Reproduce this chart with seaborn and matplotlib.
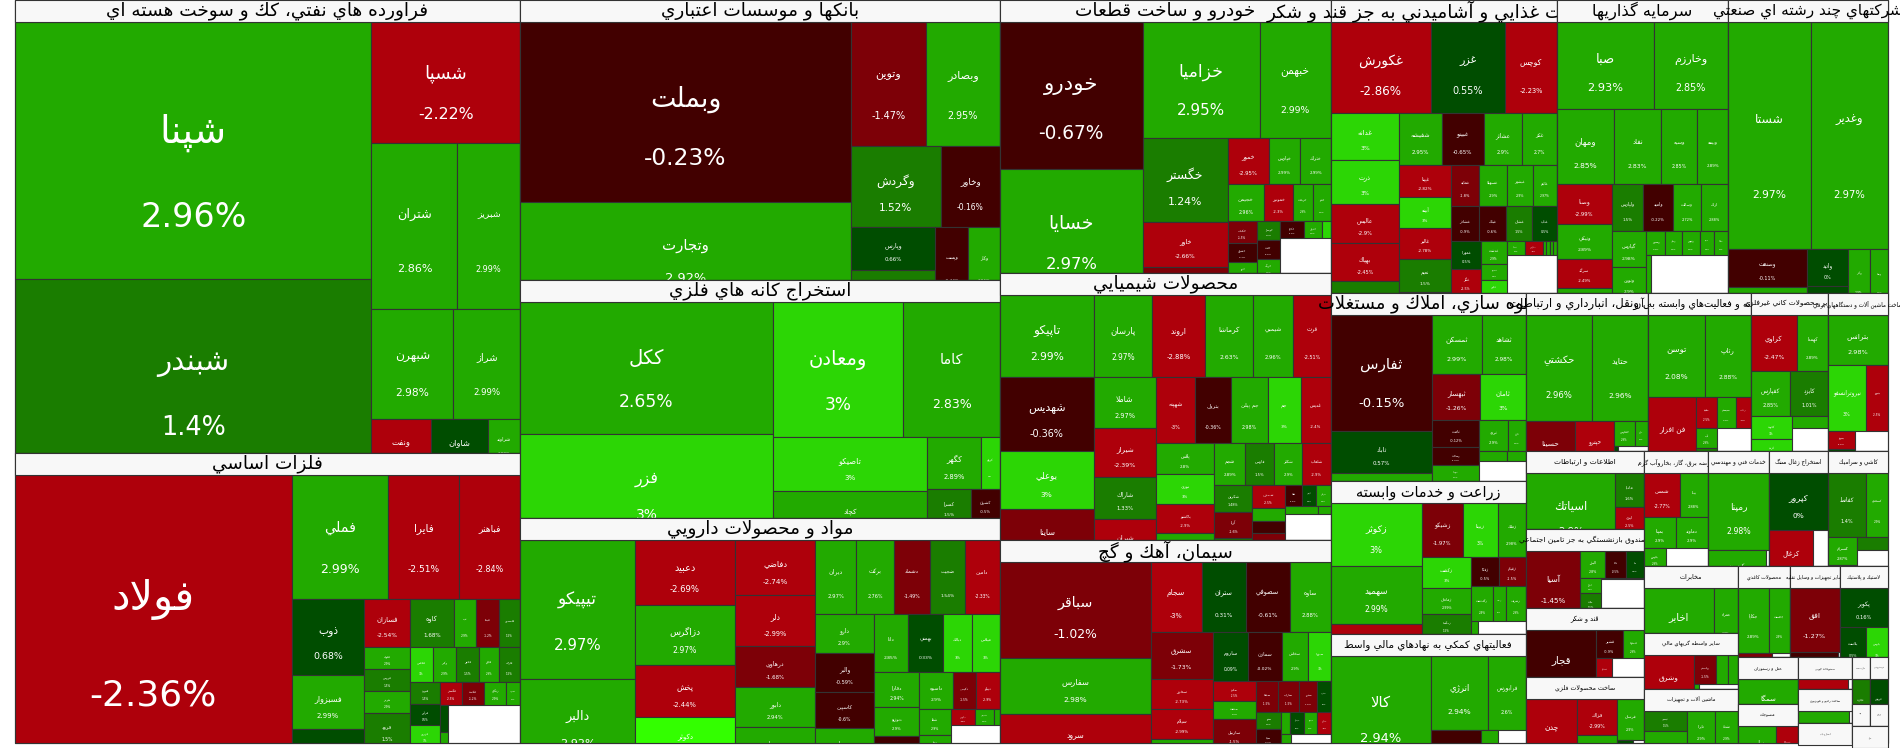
import unicodedata
import matplotlib
matplotlib.use("Agg")
import matplotlib.pyplot as plt
from matplotlib.patches import Rectangle
import pandas as pd
import seaborn as sns

# ---------- data: sector titles and sizes (market-value units) ----------
SECTOR_TITLES = [
    "فراورده هاي نفتي، كك و سوخت هسته اي", "فلزات اساسي", "بانكها و موسسات اعتباري",
    "استخراج كانه هاي فلزي", "مواد و محصولات دارويي", "خودرو و ساخت قطعات", "محصولات شيميايي",
    "سيمان، آهك و گچ", "محصولات غذايي و آشاميدني به جز قند و شكر", "سرمايه گذاريها",
    "شركتهاي چند رشته اي صنعتي", "انبوه سازي، املاك و مستغلات", "زراعت و خدمات وابسته",
    "فعاليتهاي كمكي به نهادهاي مالي واسط", "حمل ونقل، انبارداري و ارتباطات",
    "رايانه و فعاليت‌هاي وابسته به آن", "ساير محصولات كاني غيرفلزي", "ساخت ماشين آلات و دستگاههاي برقي",
    "اطلاعات و ارتباطات", "وصندوق بازنشستگي به جز تامين اجتماعي", "قند و شكر", "ساخت محصولات فلزي",
    "عرضه برق، گاز، بخاروآب گرم", "خدمات فني و مهندسي", "استخراج زغال سنگ", "كاشي و سراميك",
    "مخابرات", "ساير واسطه گريهاي مالي", "ماشين آلات و تجهيزات", "محصولات كاغذي",
    "ساير تجهيزات و وسايل نقليه", "لاستيك و پلاستيك", "هتل و رستوران", "منسوجات",
    "مصنوعات چوبي", "ساخت راديو و تلويزيون", "انتشار و چاپ", "تجارت عمده", "خرده فروشي",
    "بيمه", "ورزش", "ساير",
]
SECTOR_SIZES = [228.8, 146.5, 134.4, 114.2, 108.0, 90.4, 88.4, 67.2, 66.2, 50.1, 46.9,
                36.7, 29.8, 21.3, 19.3, 16.3, 12.2, 9.5, 9.2, 9.3, 8.1, 7.8,
                7.4, 7.0, 6.8, 6.9, 6.3, 5.3, 5.1, 4.7, 4.55, 4.4, 2.8, 2.35,
                1.73, 1.8, 1.1, 0.85, 0.85, 0.41, 0.41, 0.6]

N01 = ["شپنا", "شبندر", "شسپا", "شتران", "شبريز", "شبهرن", "شراز", "ونفت", "شاوان", "شراوند"]
C01 = [2.96, 1.4, -2.22, 2.86, 2.99, 2.98, 2.99, -2.5, 0.56, 2.99]
V01 = [91.5, 70.0, 18.0, 14.3, 10.4, 9.0, 7.3, 3.3, 3.2, 1.5]

N02 = ["فولاد", "فملي", "فايرا", "فباهنر", "ذوب", "فسبزوار", "فجر", "فسازان", "كاوه", "تب", "فپنتا", "فاسمين",
       "فلوله", "فروس", "هرمز", "فرود", "فنوال", "فخاس", "وكبر", "فخوز", "فجام", "فاراك", "فنورد", "فرآور",
       "فزرين", "فولاژ", "فگستر", "فكمند", "زنگان", "فسرب", "فافزا", "فمراد"]
C02 = [-2.36, 2.99, -2.51, -2.84, 0.68, 2.99, 0.5, -2.54, 1.68, 2.9, -1.2, 1.5,
       2.9, 1.5, 2.9, 1.5, 1.5, 3.0, 2.9, 1.5, 2.9, 1.5, 1.5, 0.5, 3.0, 0.5, -2.5, -1.2, 2.9, 2.9, 0.5, 2.9]
V02 = [80.3, 12.0, 8.75, 7.6, 5.5, 3.9, 2.6, 2.2, 2.1, 1.1, 1.1, 1.0,
       1.0, 1.0, 1.0, 1.6, 0.8, 0.8, 0.8, 0.8, 0.7, 0.72, 0.66, 0.64, 0.63, 0.58, 0.5, 0.5, 0.5, 0.32, 0.2, 0.25]

N03 = ["وبملت", "وتجارت", "وتوين", "وبصادر", "وگردش", "وخاور", "وپارس", "وپاسار", "وپست", "وكار"]
C03 = [-0.23, 2.92, -1.47, 2.95, 1.52, -0.16, 0.66, 1.5, -0.44, 2.96]
V03 = [59.6, 33.1, 9.3, 9.2, 7.3, 4.8, 3.6, 2.7, 2.3, 2.2]

N04 = ["ككل", "فزر", "ومعادن", "كاما", "تاصيكو", "كچاد", "كگهر", "كروي", "كسرا", "كمنگنز", "كشرق"]
C04 = [2.65, 3, 3, 2.83, 3, 2.5, 2.89, 3, 1.5, 2.9, -0.5]
V04 = [33.4, 26.8, 17.6, 13.0, 8.4, 7.5, 2.8, 1.0, 1.5, 0.75, 0.85]

N05 = ["تيپيكو", "دالبر", "دعبيد", "دزاگرس", "پخش", "دكوثر", "دفاضي", "دلر", "درهاوي", "دابور", "دسبحان",
       "ديران", "بركت", "دشماد", "ضجيت", "دامين", "دارو", "والبر", "كاسپين", "دسينا", "دانا", "بهمني", "دبالك",
       "ميلاس", "دفارا", "دتوزيع", "دروز", "داسوه", "دكيمي", "ديپلو", "شفا", "دتماد", "دجابر", "دپارس", "دشيمي", "دكپسول"]
C05 = [2.97, 2.92, -2.69, 2.97, -2.44, 3.5, -2.74, -2.99, -1.68, 2.94, 2.9,
       2.97, 2.76, -1.49, 1.54, -2.33, 2.9, -0.59, -0.6, 2.91, 2.85, 0.33, 3,
       3, 2.94, 2.9, -0.4, 2.9, -1.5, -2.9, 2.9, 2.9, 2.9, -2.5, 2.9, 2.9]
V05 = [16.0, 9.9, 6.5, 6.0, 5.2, 4.8, 4.4, 4.1, 3.3, 3.2, 3.0,
       3.05, 2.8, 2.7, 2.55, 2.6, 2.3, 2.3, 2.1, 2.2, 2.0, 2.0, 1.7,
       1.6, 1.6, 1.3, 1.3, 1.25, 0.85, 0.9, 0.8, 0.5, 0.45, 0.4, 0.3, 0.1]

N06 = ["خودرو", "خسايا", "خزاميا", "خبهمن", "خگستر", "خاور", "خكار", "خمور", "خپارس", "ختراك",
       "خچيمن", "خموتور", "خريخت", "خفنر", "خكمك", "خشرق", "ختور", "خنصير", "خوساز", "خلنت", "خرينگ", "خمحور",
       "خكاوه", "خديزل", "خاذين"]
C06 = [-0.67, 2.97, 2.95, 2.99, 1.24, -2.66, -1.2, -2.95, 2.99, 2.99,
       2.96, -2.3, 2.9, 2.9, -1.5, -0.4, 2.9, -2.5, 1.5, -0.5, 2.9, -1.5, -0.6, 2.9, 3]
V06 = [21.0, 18.0, 13.6, 8.3, 7.1, 3.8, 2.4, 1.9, 1.45, 1.4,
       1.35, 1.05, 0.75, 0.65, 0.65, 0.55, 0.5, 0.45, 0.45, 0.45, 0.42, 0.45, 0.4, 0.3, 0.15]

N07 = ["تاپيكو", "شهديس", "بوعلي", "ساينا", "پارسان", "اروند", "كرماشا", "شيمبي", "قرت", "شاملا", "شيراز", "شاراك", "شيران",
       "شهپنه", "بترول", "جم پيلن", "جم", "غديس", "پلاس", "نوري", "پاكشو", "شكام", "شجم", "فارس", "شكلر", "شلعاب",
       "شكربن", "آريا", "شگل", "شصدف", "شفن", "شنفت", "شپديس", "شپاس", "شفا", "كيمي", "شرانل", "شسم", "شبهرن"]
C07 = [2.99, -0.36, 3, -1.5, 2.97, -2.88, 2.63, 2.96, -2.51, 2.97, -2.39, 1.33, -2.5,
       -3, -0.36, 2.98, 3, -2.4, 2.8, 3, -2.9, 2.9, 2.89, 1.5, 2.9, -2.9,
       1.48, -1.6, 1.5, -2.5, 2.9, -0.5, -1.5, 1.5, -0.5, 0.5, 2.9, 2.9, 2.9]
V07 = [7.7, 7.0, 5.4, 5.0, 4.76, 4.35, 3.9, 3.3, 3.1, 3.2, 3.0, 2.6, 2.7,
       2.6, 2.4, 2.4, 2.2, 2.0, 1.8, 1.75, 1.7, 1.7, 1.3, 1.2, 1.2, 1.2,
       1.0, 1.0, 0.9, 0.76, 0.4, 0.4, 0.4, 0.56, 0.35, 0.3, 0.3, 0.25, 0.1]

N08 = ["سباقر", "سفارس", "سرود", "سجام", "ستران", "سصوفي", "ساوه", "سشرق", "سخزر", "سيلام", "سفانو", "ساروم", "سمازن",
       "سخاش", "سبزوا", "سكرد", "سدشت", "ساربيل", "سهگمت", "سپاها", "ساراب", "سدور", "سغرب", "سنير", "سيتا", "سكرما",
       "سخوز", "سيدكو", "سبجنو", "سقاين", "سمتاز"]
C08 = [-1.02, 2.98, -2.5, -3, 0.31, -0.61, 2.88, -1.73, -2.73, -2.99, 2.9, 0.09, -0.02,
       2.9, 3, -2.5, 2.9, -1.5, -2.5, -1.5, -1.5, -1.5, 0.5, 1.5, -0.5, -2.5, 2.9, 0.5, 2.9, -2.5, 2.9]
V08 = [14.4, 8.5, 7.7, 3.6, 3.1, 3.1, 2.9, 2.9, 1.85, 1.9, 1.6, 1.7, 1.65,
       1.3, 1.1, 0.85, 0.8, 1.3, 0.7, 0.65, 0.65, 0.55, 0.42, 0.42, 0.5, 0.4, 0.2, 0.3, 0.3, 0.3, 0.3]

N09 = ["غكورش", "غزر", "كوچس", "غدانه", "ذرت", "عاليس", "بهپاك", "غنوش", "شفيشه", "غبينو", "عشائر", "غكز",
       "غپينا", "آبينه", "غالبر", "نعيم", "غشهد", "غمايه", "غسهيلا", "غبشهر", "غاليم", "غشاذر", "غپاك", "غشان",
       "غناب", "غمهرا", "غگز", "غمشهد", "غدشت", "غصينو", "غچين", "غيوان", "غشاد", "غفارس", "غنيلي", "غبهار", "غلور", "غمينو"]
C09 = [-2.86, 0.55, -2.23, 3, 3, -2.9, -2.45, 1.5, 2.95, -0.65, 2.9, 2.7,
       -2.82, 3, -2.78, 1.5, -1.5, -1.8, 2.9, 2.9, 2.97, -0.9, -0.6, 1.5,
       0.5, 0.5, -2.5, -1.5, 2.9, 2.9, 3, -0.5, 2.9, -2.5, 2.9, 2.9, 2.9, 2.9]
V09 = [9.1, 6.8, 4.7, 3.2, 3.0, 2.7, 2.6, 2.3, 2.2, 2.2, 2.0, 1.8,
       1.65, 1.6, 1.6, 1.7, 1.2, 1.15, 1.15, 1.05, 1.0, 0.95, 0.95, 0.9,
       0.85, 0.85, 0.8, 0.6, 0.6, 0.4, 0.45, 0.43, 0.25, 0.25, 0.05, 0.05, 0.05, 0.05]

N10 = ["صبا", "وخارزم", "ومهان", "نفاد", "وسيه", "وبيمه", "وصنا", "ونيكي", "سرگد", "وسپه", "ولپارس", "واميد", "وسالت",
       "اراك", "گپارس", "ونوين", "وصندوق", "وسپهر", "وملي", "وتوس", "سپيد", "سمگا", "ساذر"]
C10 = [2.93, 2.85, 2.85, 2.83, 2.85, 2.89, -2.99, 2.89, -2.49, 2.9, 1.5, -0.22, 2.72,
       2.88, 2.98, 2.9, 2.9, 2.9, 2.9, 2.9, 2.9, 2.9, 2.9]
V10 = [8.45, 6.5, 4.3, 3.5, 2.7, 2.3, 2.2, 1.9, 1.6, 1.5, 1.45, 1.4, 1.3,
       1.25, 1.25, 1.1, 0.52, 0.46, 0.4, 0.43, 0.35, 0.33, 0.27]

N11 = ["شستا", "وغدير", "وصنعت", "وپارس", "واتيد", "وبالك", "وآذر", "وسنا"]
C11 = [2.97, 2.97, -0.11, 2.9, 0, 0.2, 2.9, 2.9]
V11 = [18.8, 17.6, 3.0, 2.2, 1.5, 1.15, 1.3, 1.0]

N12 = ["ثفارس", "ثاباد", "ثالوند", "ثمسكن", "ثشاهد", "ثبهسار", "ثامان", "ثامت", "وساخت", "ثنوسا", "ثبهن", "ثرود", "ثاژن", "ثجنوب", "ثعمرا"]
C12 = [-0.15, 0.57, 2.9, 2.99, 2.98, -1.26, 3, -0.12, -0.79, 2.7, 2.88, 2.9, 2.9, 2.9, 2.9]
V12 = [11.8, 4.3, 3.0, 2.9, 2.6, 2.2, 2.1, 1.3, 0.82, 0.78, 1.0, 0.9, 0.55, 0.3, 0.2]

N13 = ["زكوثر", "سهميد", "زفاد", "زشيكو", "زبينا", "زملك", "زكشت", "زماهان", "زمگسا", "زپارس", "زفكا", "زقيام", "زگلدشت", "زدشت", "زشريف", "زنگين"]
C13 = [3, 2.99, -2.5, -1.97, 3, 2.98, 3, 2.99, 1.5, 2.9, -0.5, -1.5, 2.9, 2.9, 2.9, 2.9]
V13 = [5.7, 5.3, 2.9, 2.2, 1.9, 1.5, 1.55, 1.3, 1.05, 1.0, 0.8, 0.8, 0.75, 0.45, 0.7, 0.25]

N14 = ["كالا", "انرژي", "فرابورس", "بورس", "اوراق"]
C14 = [2.94, 2.94, 2.6, -0.6, 2.9]
V14 = [10.9, 4.3, 2.8, 1.75, 0.6]

N15 = ["حكشتي", "حتايد", "حسينا", "حپترو", "حفارس", "حريل", "حاريا"]
C15 = [2.96, 2.96, -1.5, -2.88, 2.9, 2.9, 0.5]
V15 = [7.0, 6.0, 2.55, 2.0, 0.5, 0.32, 0.1]

N16 = ["توسن", "رتاپ", "فن افزار", "مفيد", "سيستم", "پرداخت", "آپ", "رانفور", "رايان"]
C16 = [2.08, 2.88, -2.98, -2.5, 2.9, -2.5, 2.9, 1.5, -0.6]
V16 = [4.65, 3.8, 3.7, 0.62, 0.58, 0.47, 0.42, 0.2, 0.3]

N17 = ["كراوي", "كهمدا", "كفپارس", "كايزد", "كلوند", "كرتيد", "كسپا", "كفرا"]
C17 = [-2.47, 2.89, 2.85, 1.01, 3, 3, -1.5, 2.9]
V17 = [2.6, 1.75, 1.75, 1.7, 0.95, 0.75, 0.65, 0.42]

N18 = ["بترانس", "نيروترانسفو", "بنيرو", "بموتو", "بكاب", "بشهاب"]
C18 = [2.98, 3, -2.5, -2.5, 0.5, 2.9]
V18 = [3.0, 2.5, 1.45, 0.5, 0.35, 0.3]

N19 = ["اسياتك", "مادپا", "ايزي"]
C19 = [2.9, 1.6, -2.5]
V19 = [7.0, 0.95, 0.7]

N20 = ["آسيا", "بپاس", "البرز", "دانا", "ما", "اتكام", "ملت", "كوثر", "پارسيان"]
C20 = [-1.45, 2.88, 2.8, -0.5, 0.5, 2.9, 1.5, 2.9, 2.9]
V20 = [3.6, 0.7, 0.67, 0.58, 0.47, 0.3, 0.4, 0.35, 0.05]

N21 = ["قجار", "قشير", "قصفها", "قشكر", "قثابت"]
C21 = [-0.84, -0.9, 2.9, -2.5, -0.5]
V21 = [4.8, 0.78, 0.58, 0.42, 0.22]

N22 = ["چدن", "فزاك", "فلور", "فرسان", "فسديد"]
C22 = [-2.99, -2.99, 2.9, 2.9, 0.5]
V22 = [3.4, 1.45, 1.2, 1.1, 0.4]

N23 = ["شمس", "بپنا", "بمپنا", "دماوند", "بجهرم", "تابا", "بگيلان"]
C23 = [-2.77, 2.88, 2.9, 2.9, 2.9, 2.9, 2.9]
V23 = [1.6, 1.25, 1.0, 1.0, 0.45, 0.22, 0.2]

N24 = ["رمپنا", "كيسون"]
C24 = [2.98, 2.9]
V24 = [4.7, 2.2]

N25 = ["كپرور", "كزغال"]
C25 = [0, -2.54]
V25 = [3.35, 2.6]

N26 = ["كفاتط", "كسعدي", "كسرام", "كمرجان", "كهرام"]
C26 = [1.4, 2.9, 2.87, 5.5, 1.5]
V26 = [2.45, 1.4, 0.8, 0.65, 0.4]

N27 = ["اخابر", "همراه"]
C27 = [2.93, 2.9]
V27 = [4.7, 1.45]

N28 = ["وشرق", "ولصنم", "ولبهمن", "ولشرق", "وكيل"]
C28 = [-2.99, -1.5, 2.9, 2.9, 2.9]
V28 = [2.8, 0.66, 0.33, 0.3, 0.15]

N29 = ["تپمپي", "تكمبا", "تايرا", "تشتاد", "تماوند"]
C29 = [1.5, 2.9, 2.9, 2.9, 2.9]
V29 = [0.85, 1.5, 1.0, 0.85, 0.8]

N30 = ["چكاپا", "چافست", "چكارن"]
C30 = [2.89, 2.9, -1.5]
V30 = [2.0, 1.35, 0.9]

N31 = ["افق", "ولتجار"]
C31 = [-1.27, -0.5]
V31 = [3.2, 1.3]

N32 = ["پكوير", "پلاست", "پارس", "پاكشا"]
C32 = [0.16, 0.5, 3, -2.5]
V32 = [1.9, 1.0, 0.85, 0.7]

N33 = ["سمگا"]
C33 = [2.88]
V33 = [2.8]

N34 = ["نطرين", "نبروج"]
C34 = [2.9, -2.5]
V34 = [1.5, 0.85]

N35 = ["چوكا"]
C35 = [-2.8]
V35 = [1.6]

N36 = ["تلويزيون"]
C36 = [2.9]
V36 = [1.7]

N38 = ["تجارت"]
C38 = [1.5]
V38 = [0.85]

N39 = ["فروش"]
C39 = [0.5]
V39 = [0.85]

ALL_NAMES = [N01, N02, N03, N04, N05, N06, N07, N08, N09, N10, N11, N12, N13, N14, N15, N16, N17, N18,
             N19, N20, N21, N22, N23, N24, N25, N26, N27, N28, N29, N30, N31, N32, N33, N34, N35, N36,
             [], N38, N39, [], [], []]
ALL_CHANGES = [C01, C02, C03, C04, C05, C06, C07, C08, C09, C10, C11, C12, C13, C14, C15, C16, C17, C18,
               C19, C20, C21, C22, C23, C24, C25, C26, C27, C28, C29, C30, C31, C32, C33, C34, C35, C36,
               [], C38, C39, [], [], []]
ALL_VALUES = [V01, V02, V03, V04, V05, V06, V07, V08, V09, V10, V11, V12, V13, V14, V15, V16, V17, V18,
              V19, V20, V21, V22, V23, V24, V25, V26, V27, V28, V29, V30, V31, V32, V33, V34, V35, V36,
              [], V38, V39, [], [], []]

# ---------- Arabic shaping (matplotlib has no complex text layout) ----------
FORMS = {}
for cp in list(range(0xFB50, 0xFE00)) + list(range(0xFE70, 0xFF00)):
    d = unicodedata.decomposition(chr(cp)).split()
    if len(d) == 2 and d[0] in ("<isolated>", "<final>", "<initial>", "<medial>"):
        FORMS.setdefault(chr(int(d[1], 16)), {}).setdefault(d[0], chr(cp))
RIGHT_ONLY = set("اآأإدذرزژوؤة")


def shape(text):
    out, i = [], 0
    chars = list(text)
    n = len(chars)
    def dual(c):
        return c in FORMS and c not in RIGHT_ONLY and c != "ء"
    while i < n:
        c = chars[i]
        prev_join = i > 0 and dual(chars[i - 1])
        if c not in FORMS:
            if c != "\u200c":
                out.append(c)
            i += 1
            continue
        if c == "ل" and i + 1 < n and chars[i + 1] in "اآ":
            iso, fin = ("\uFEFB", "\uFEFC") if chars[i + 1] == "ا" else ("\uFEF5", "\uFEF6")
            out.append(fin if prev_join else iso)
            i += 2
            continue
        next_join = dual(c) and i + 1 < n and chars[i + 1] in FORMS
        f = FORMS[c]
        key = ("<medial>" if next_join else "<final>") if prev_join else ("<initial>" if next_join else "<isolated>")
        out.append(f.get(key, f.get("<isolated>", c)))
        i += 1
    return "".join(reversed(out))


# ---------- squarified layout with a golden-ratio target shape ----------
GOLDEN = 0.5 * (1 + 5 ** 0.5)


def squarify(values, x, y, w, h):
    """Squarified treemap; values are areas, unused space stays empty."""
    rects = [None] * len(values)

    def worst(row, side):
        s = sum(row)
        f = side * side * GOLDEN
        return max(f * max(row) / (s * s), s * s / (f * min(row)))

    pos = 0
    while pos < len(values) and w > 1e-6 and h > 1e-6:
        side = min(w, h)
        row = [values[pos]]
        best = worst(row, side)
        end = pos + 1
        while end < len(values):
            score = worst(row + [values[end]], side)
            if score > best:
                break
            row.append(values[end])
            best = score
            end += 1
        thick = sum(row) / side
        off = 0.0
        for k, r in enumerate(row):
            length = r / thick
            if side == h:
                rects[pos + k] = (x, y + off, thick, length)
            else:
                rects[pos + k] = (x + off, y, length, thick)
            off += length
        if side == h:
            x += thick
            w -= thick
        else:
            y += thick
            h -= thick
        pos = end
    return rects


# ---------- style ----------
sns.set_theme(style="white")
plt.rcParams["font.family"] = ["DejaVu Sans"]
SHADES = sns.color_palette(["#33FF00", "#2CD605", "#22AA00", "#1A7D00", "#004D00", "#420000", "#7D0007", "#AE000B"])


def shade(p):
    for limit, colour in zip((3.2, 2.995, 2, 1, 0, -1, -2), SHADES):
        if p >= limit:
            return colour
    return SHADES[-1]


def pct_label(p):
    return f"{p:g}%"


HEADER = 22.0
PX_TO_PT = 0.72
PLOT_X, PLOT_Y, PLOT_W, PLOT_H = 15.0, 0.0, 1873.0, 743.0

fig, ax = plt.subplots(figsize=(19, 7.48), dpi=100)
fig.subplots_adjust(0, 0, 1, 1)
ax.set_xlim(0, 1900)
ax.set_ylim(748, 0)
ax.axis("off")

scale = PLOT_W * PLOT_H / sum(SECTOR_SIZES)
boxes = squarify([s * scale for s in SECTOR_SIZES], PLOT_X, PLOT_Y, PLOT_W, PLOT_H)

z = 1
for title, size, names, changes, vals, box in zip(SECTOR_TITLES, SECTOR_SIZES, ALL_NAMES, ALL_CHANGES, ALL_VALUES, boxes):
    if box is None:
        continue
    bx, by, bw, bh = box
    ax.add_patch(Rectangle((bx, by), bw, bh, fc="#FFFFFF", ec="#333333", lw=0.8, zorder=z))
    clip = Rectangle((bx, by), bw, bh, transform=ax.transData)
    frame = pd.DataFrame({"name": names, "change": changes, "value": vals})
    k = bw * bh / size
    cells = squarify([v * k for v in frame["value"]], bx, by + HEADER, bw, bh)
    for row, cell in zip(frame.itertuples(), cells):
        if cell is None:
            continue
        cx, cy, cw, ch = cell
        p = ax.add_patch(Rectangle((cx, cy), cw, ch, fc=shade(row.change), ec="#333333", lw=0.8, zorder=z))
        p.set_clip_path(clip)
        fs = 0.13 * min(cw, ch) * PX_TO_PT
        if fs < 1.2:
            continue
        for label, frac, grow in ((shape(row.name), 0.43, 1.15), (pct_label(row.change), 0.76, 1.0)):
            t = ax.text(cx + cw / 2, cy + frac * ch, label, color="white", fontsize=fs * grow,
                        ha="center", va="center", zorder=z, clip_on=True)
            t.set_clip_path(clip)
    ax.add_patch(Rectangle((bx, by), bw, bh, fc="none", ec="#333333", lw=0.8, zorder=z))
    ax.add_patch(Rectangle((bx, by), bw, HEADER, fc="#F8F8F8", ec="#333333", lw=0.8, zorder=z))
    title_px = min(18.5, 0.095 * min(bw, bh))
    ax.text(bx + bw / 2, by + HEADER / 2, shape(title), color="black", fontsize=title_px * PX_TO_PT,
            ha="center", va="center", zorder=z)
    z += 1

fig.savefig("out.png", dpi=100, facecolor="white")
